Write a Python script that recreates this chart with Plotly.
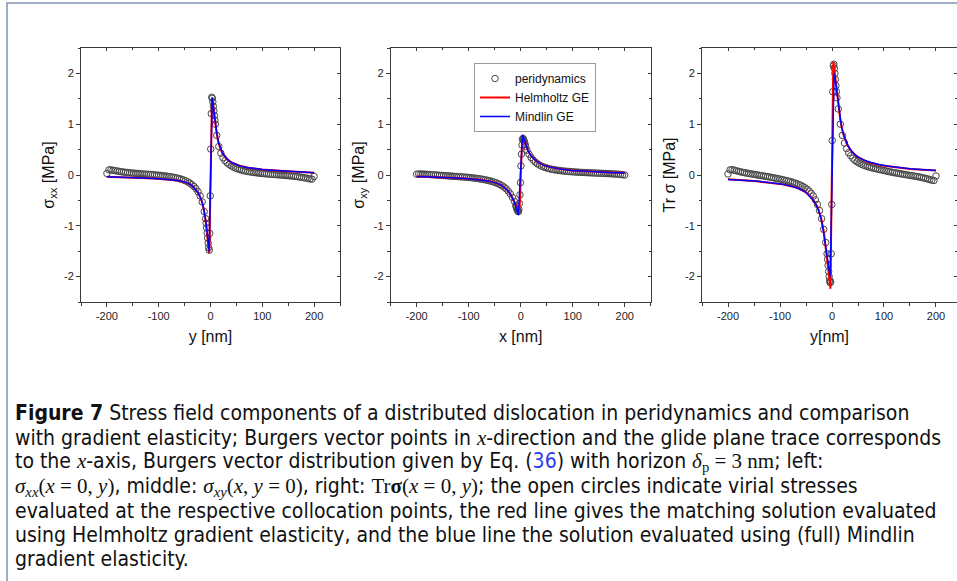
import plotly.graph_objects as go

# ---------------- data ----------------
# collocation positions (nm) shared by the three panels
pd_pos = [-200, -196, -192, -188, -184, -180, -176, -172, -168, -164, -160, -156, -152, -148, -144, -140,
          -136, -132, -128, -124, -120, -116, -112, -108, -104, -100, -96, -92, -88, -84, -80, -76, -72,
          -68, -64, -60, -56, -52, -48, -44, -40, -36, -32, -28, -24, -20, -16, -12,
          -9.5, -8.5, -7.5, -6.5, -5.5, -4.5, -3.5, -2.5, -1.5, -0.5, 0.5, 1.5, 2.5, 3.5, 4.5, 5.5, 6.5,
          7.5, 8.5, 9.5,
          12, 16, 20, 24, 28, 32, 36, 40, 44, 48, 52, 56, 60, 64, 68, 72, 76, 80, 84, 88, 92, 96, 100,
          104, 108, 112, 116, 120, 124, 128, 132, 136, 140, 144, 148, 152, 156, 160, 164, 168, 172, 176,
          180, 184, 188, 192, 196, 200]

# panel 1: sigma_xx(x=0, y)
pd_sxx = [0.03, 0.10, 0.10, 0.093, 0.085, 0.078, 0.071, 0.064, 0.058, 0.053, 0.048, 0.044, 0.040, 0.036,
          0.033, 0.029, 0.025, 0.022, 0.019, 0.016, 0.013, 0.010, 0.007, 0.003, -0.001, -0.005, -0.009,
          -0.014, -0.019, -0.024, -0.030, -0.037, -0.044, -0.052, -0.061, -0.072, -0.084, -0.098, -0.115,
          -0.135, -0.160, -0.190, -0.225, -0.270, -0.330, -0.410, -0.530, -0.720,
          -0.86, -0.95, -1.04, -1.14, -1.24, -1.34, -1.43, -1.48, -1.15, -0.41, 0.51, 1.21, 1.53, 1.51,
          1.44, 1.35, 1.26, 1.17, 1.08, 1.00,
          0.78, 0.56, 0.43, 0.34, 0.285, 0.24, 0.207, 0.18, 0.157, 0.138, 0.122, 0.109, 0.097, 0.086,
          0.077, 0.069, 0.062, 0.055, 0.049, 0.044, 0.039, 0.034, 0.030, 0.026, 0.022, 0.018, 0.015,
          0.012, 0.009, 0.006, 0.003, 0.0, -0.004, -0.008, -0.011, -0.015, -0.019, -0.023, -0.028,
          -0.033, -0.039, -0.045, -0.052, -0.060, -0.068, -0.077, -0.082, -0.030]

# panel 2: sigma_xy(x, y=0)
pd_sxy = [0.015, 0.020, 0.020, 0.018, 0.016, 0.013, 0.010, 0.007, 0.004, 0.001, -0.002, -0.005, -0.008,
          -0.011, -0.014, -0.017, -0.020, -0.023, -0.026, -0.029, -0.032, -0.035, -0.038, -0.041, -0.044,
          -0.048, -0.052, -0.057, -0.062, -0.068, -0.074, -0.080, -0.087, -0.095, -0.104, -0.114, -0.125,
          -0.138, -0.152, -0.168, -0.187, -0.210, -0.238, -0.272, -0.315, -0.370, -0.440, -0.520,
          -0.60, -0.63, -0.66, -0.69, -0.71, -0.72, -0.68, -0.56, -0.39, -0.15, 0.18, 0.41, 0.59, 0.70,
          0.72, 0.70, 0.67, 0.63, 0.60, 0.56,
          0.49, 0.41, 0.345, 0.295, 0.255, 0.222, 0.196, 0.175, 0.158, 0.144, 0.132, 0.121, 0.112, 0.104,
          0.097, 0.091, 0.086, 0.081, 0.077, 0.073, 0.069, 0.066, 0.063, 0.060, 0.057, 0.055, 0.052,
          0.050, 0.048, 0.046, 0.044, 0.042, 0.040, 0.038, 0.036, 0.034, 0.033, 0.031, 0.029, 0.027,
          0.025, 0.022, 0.020, 0.017, 0.014, 0.010, 0.006, 0.0]

# panel 3: Tr sigma(x=0, y)
pd_tr = [0.02, 0.10, 0.105, 0.095, 0.083, 0.072, 0.062, 0.053, 0.045, 0.037, 0.030, 0.023, 0.016, 0.009,
         0.002, -0.005, -0.012, -0.019, -0.026, -0.033, -0.040, -0.048, -0.056, -0.064, -0.072, -0.081,
         -0.090, -0.100, -0.110, -0.120, -0.131, -0.143, -0.156, -0.170, -0.186, -0.204, -0.225, -0.250,
         -0.280, -0.315, -0.360, -0.415, -0.490, -0.580, -0.700, -0.860, -1.070, -1.330,
         -1.55, -1.66, -1.78, -1.90, -2.00, -2.08, -2.12, -2.10, -1.55, -0.58, 0.68, 1.64, 2.15, 2.18,
         2.10, 2.00, 1.88, 1.76, 1.64, 1.52,
         1.30, 1.00, 0.78, 0.63, 0.52, 0.44, 0.38, 0.33, 0.29, 0.26, 0.235, 0.215, 0.197, 0.182, 0.168,
         0.155, 0.144, 0.134, 0.124, 0.115, 0.106, 0.098, 0.088, 0.079, 0.070, 0.061, 0.053, 0.045,
         0.038, 0.031, 0.024, 0.017, 0.010, 0.003, -0.004, -0.011, -0.018, -0.025, -0.032, -0.040,
         -0.048, -0.057, -0.067, -0.078, -0.090, -0.102, -0.108, -0.020]

# Helmholtz GE (red) and Mindlin GE (blue) solutions
p1_red_x = [-200, -150, -110, -80, -60, -45, -35, -27, -21, -16, -12, -9, -7, -5.5, -4.3, -3.4, -2.8, -2.2,
            2.4, 3.0, 3.8, 5, 6.5, 8.5, 11, 14, 18, 23, 30, 40, 55, 75, 100, 140, 200]
p1_red_y = [-0.035, -0.05, -0.068, -0.092, -0.115, -0.16, -0.215, -0.3, -0.41, -0.54, -0.72, -0.93, -1.1,
            -1.26, -1.4, -1.5, -1.54, -1.45, 1.42, 1.52, 1.49, 1.4, 1.26, 1.07, 0.88, 0.7, 0.55, 0.43,
            0.33, 0.25, 0.19, 0.14, 0.11, 0.08, 0.046]
p1_blue_x = [-200, -170, -140, -120, -100, -85, -70, -60, -50, -42, -35, -29, -24, -20, -16, -13, -11, -9,
             -7, -5.5, -4.2, -3.2, -2.6, 3.2, 4.5, 6, 8, 10, 12, 14, 16, 19, 22, 26, 30, 35, 42, 50, 60,
             70, 85, 100, 120, 140, 160, 180, 200]
p1_blue_y = [-0.035, -0.042, -0.052, -0.062, -0.073, -0.085, -0.1, -0.115, -0.138, -0.17, -0.215, -0.28,
             -0.35, -0.43, -0.54, -0.67, -0.78, -0.92, -1.09, -1.23, -1.37, -1.47, -1.51, 1.53, 1.45,
             1.32, 1.13, 0.96, 0.82, 0.72, 0.63, 0.53, 0.46, 0.39, 0.335, 0.285, 0.235, 0.2, 0.17,
             0.148, 0.127, 0.11, 0.095, 0.082, 0.07, 0.058, 0.046]

p2_red_x = [-200, -120, -80, -55, -37, -25, -18, -13, -10, -7.5, -5.5, -4, -2.5, -1.2, 0.2, 1.5, 3, 4,
            5.5, 7.5, 10, 14, 20, 30, 45, 66, 98, 140, 200]
p2_red_y = [-0.028, -0.058, -0.09, -0.13, -0.2, -0.3, -0.41, -0.52, -0.6, -0.66, -0.7, -0.71, -0.66, -0.5,
            0.05, 0.55, 0.7, 0.72, 0.71, 0.66, 0.58, 0.48, 0.38, 0.27, 0.19, 0.134, 0.09, 0.062, 0.038]
p2_blue_x = [-200, -180, -160, -140, -120, -94, -80, -66, -55, -45, -37, -30, -25, -20, -15.5, -12, -9.5,
             -7.5, -6, -4.5, 3.5, 5, 6.5, 8.5, 11, 14.5, 19, 24, 30, 37, 45, 55, 66, 80, 98, 120, 140,
             162, 180, 200]
p2_blue_y = [-0.028, -0.033, -0.04, -0.048, -0.058, -0.077, -0.092, -0.112, -0.135, -0.165, -0.205, -0.255,
             -0.305, -0.37, -0.45, -0.54, -0.62, -0.69, -0.74, -0.79, 0.79, 0.76, 0.71, 0.64, 0.56, 0.47,
             0.39, 0.33, 0.275, 0.23, 0.19, 0.16, 0.135, 0.112, 0.09, 0.072, 0.062, 0.052, 0.045, 0.038]

p3_red_x = [-200, -150, -100, -70, -50, -37, -28, -21, -16, -12, -9, -7, -5.5, -4.2, -3,
            2.5, 3.5, 4.5, 5.5, 7, 9, 12, 16, 21, 28, 37, 50, 70, 100, 150, 200]
p3_red_y = [-0.085, -0.12, -0.175, -0.24, -0.34, -0.47, -0.63, -0.84, -1.1, -1.4, -1.68, -1.88, -2.02,
            -2.15, -2.24, 2.23, 2.18, 2.1, 2.0, 1.86, 1.66, 1.39, 1.08, 0.83, 0.62, 0.47, 0.35, 0.25,
            0.18, 0.12, 0.088]
p3_blue_x = [-200, -170, -140, -110, -95, -80, -63, -52, -44, -37, -31, -26, -21, -18, -15, -12, -9.7,
             -7.5, -5.5, -4.2, -3.5, 4, 5, 6.5, 8, 10, 12, 15, 18, 22, 26, 31, 37, 44, 52, 62, 75, 90,
             110, 130, 150, 170, 200]
p3_blue_y = [-0.09, -0.105, -0.125, -0.16, -0.18, -0.215, -0.27, -0.33, -0.4, -0.48, -0.58, -0.69, -0.86,
             -1.0, -1.2, -1.42, -1.6, -1.78, -1.92, -1.99, -2.0, 2.0, 1.97, 1.87, 1.74, 1.56, 1.38, 1.15,
             0.97, 0.8, 0.68, 0.57, 0.48, 0.4, 0.34, 0.29, 0.245, 0.205, 0.17, 0.145, 0.125, 0.11, 0.09]

x_tick_vals = [-200, -100, 0, 100, 200]
x_tick_text = ["-200", "-100", "0", "100", "200"]
y_tick_vals = [-2, -1, 0, 1, 2]
y_tick_text = ["-2", "-1", "0", "1", "2"]

x_titles = ["y [nm]", "x [nm]", "y[nm]"]
y_titles = ["σ<sub>xx</sub> [MPa]", "σ<sub>xy</sub> [MPa]", "Tr σ [MPa]"]
legend_names = ["peridynamics", "Helmholtz GE", "Mindlin GE"]

caption_lines = [
    "<b>Figure 7</b> Stress field components of a distributed dislocation in peridynamics and comparison",
    "with gradient elasticity; Burgers vector points in <M><i>x</i></M>-direction and the glide plane trace corresponds",
    "to the <M><i>x</i></M>-axis, Burgers vector distribution given by Eq. (<span style='color:#2b3bf0'>36</span>) with horizon <M><i>δ</i><sub>p</sub> = 3 nm</M>; left:",
    "<M><i>σ<sub>xx</sub></i>(<i>x</i> = 0, <i>y</i>)</M>, middle: <M><i>σ<sub>xy</sub></i>(<i>x</i>, <i>y</i> = 0)</M>, right: <M>Tr<b>σ</b>(<i>x</i> = 0, <i>y</i>)</M>; the open circles indicate virial stresses",
    "evaluated at the respective collocation points, the red line gives the matching solution evaluated",
    "using Helmholtz gradient elasticity, and the blue line the solution evaluated using (full) Mindlin",
    "gradient elasticity.",
]

# ---------------- layout geometry (pixels) ----------------
W, H = 957, 581
PX = lambda v: v / W
PY = lambda v: 1 - v / H

panel_x = [(81, 340), (390.7, 650.7), (702, W)]
panel_xrange = [[-250, 250], [-250, 250], [-250, 240.4]]
ydom = [PY(302), PY(48)]

AX_COLOR = "#3a3a3a"
FONT = "Liberation Sans, Arial, sans-serif"

series = [
    (pd_sxx, p1_red_x, p1_red_y, p1_blue_x, p1_blue_y),
    (pd_sxy, p2_red_x, p2_red_y, p2_blue_x, p2_blue_y),
    (pd_tr, p3_red_x, p3_red_y, p3_blue_x, p3_blue_y),
]

fig = go.Figure()
layout = {}
for i, (circ, rx, ry, bx, by) in enumerate(series):
    n = i + 1
    xa = "x" if n == 1 else f"x{n}"
    ya = "y" if n == 1 else f"y{n}"
    show = (n == 2)
    fig.add_trace(go.Scatter(x=pd_pos, y=circ, mode="markers", xaxis=xa, yaxis=ya,
                             name=legend_names[0], showlegend=show,
                             marker=dict(symbol="circle-open", size=6.5, color="#454545",
                                         line=dict(width=1, color="#454545"))))
    fig.add_trace(go.Scatter(x=rx, y=ry, mode="lines", xaxis=xa, yaxis=ya,
                             name=legend_names[1], showlegend=show,
                             line=dict(color="#ff0000", width=2)))
    fig.add_trace(go.Scatter(x=bx, y=by, mode="lines", xaxis=xa, yaxis=ya,
                             name=legend_names[2], showlegend=show,
                             line=dict(color="#0000ff", width=1.5)))
    # overlay axes (top / right) with inward mirror ticks
    m = n + 3
    fig.add_trace(go.Scatter(x=[None], y=[None], xaxis=f"x{m}", yaxis=f"y{m}",
                             showlegend=False, hoverinfo="skip"))

    dom = [PX(panel_x[i][0]), PX(panel_x[i][1])]
    common_x = dict(range=panel_xrange[i], showgrid=False, zeroline=False,
                    tickmode="array", tickvals=x_tick_vals, ticktext=x_tick_text,
                    linecolor=AX_COLOR, linewidth=1, tickcolor=AX_COLOR)
    common_y = dict(range=[-2.5, 2.5], showgrid=False, zeroline=False,
                    tickmode="array", tickvals=y_tick_vals, ticktext=y_tick_text,
                    linecolor=AX_COLOR, linewidth=1, tickcolor=AX_COLOR)
    layout[f"xaxis{'' if n == 1 else n}"] = dict(
        common_x, domain=dom, anchor=ya, showline=True, ticks="outside", ticklen=4, tickwidth=1,
        minor=dict(tickmode="linear", tick0=0, dtick=50, ticks="outside", ticklen=2.5,
                   tickcolor=AX_COLOR),
        tickfont=dict(family=FONT, size=11, color="#222"),
        title=dict(text=x_titles[i], font=dict(family=FONT, size=16, color="#111"), standoff=9))
    layout[f"yaxis{'' if n == 1 else n}"] = dict(
        common_y, domain=ydom, anchor=xa, showline=True, ticks="outside", ticklen=4, tickwidth=1,
        minor=dict(tickmode="linear", tick0=0, dtick=0.5, ticks="outside", ticklen=2.5,
                   tickcolor=AX_COLOR),
        tickfont=dict(family=FONT, size=11, color="#222"),
        title=dict(text=y_titles[i], font=dict(family=FONT, size=16, color="#111"), standoff=5))
    layout[f"xaxis{m}"] = dict(
        common_x, overlaying=xa, side="top", anchor=f"y{m}", showline=True,
        ticks="inside", ticklen=3, showticklabels=False,
        minor=dict(tickmode="linear", tick0=0, dtick=50, ticks="inside", ticklen=2,
                   tickcolor=AX_COLOR))
    layout[f"yaxis{m}"] = dict(
        common_y, overlaying=ya, side="right", anchor=f"x{m}", showline=(n != 3),
        ticks="inside", ticklen=3, showticklabels=False,
        minor=dict(tickmode="linear", tick0=0, dtick=0.5, ticks="inside", ticklen=2,
                   tickcolor=AX_COLOR))

fig.update_layout(**layout)

# caption
MATH = "<span style=\"font-family:'Liberation Serif','DejaVu Serif',serif\">"
cap_y = [413, 438, 462, 487, 511, 535, 559]
for txt, yy in zip(caption_lines, cap_y):
    t = txt.replace("<M>", MATH).replace("</M>", "</span>")
    fig.add_annotation(x=PX(13), y=PY(yy), xref="paper", yref="paper", text=t, showarrow=False,
                       xanchor="left", yanchor="middle", align="left",
                       font=dict(family="DejaVu Sans Condensed, Liberation Sans Narrow, Liberation Sans",
                                 size=21, color="#111"))

# outer frame of the figure box
fig.add_shape(type="rect", xref="paper", yref="paper", x0=PX(7), y0=-0.05, x1=1.05, y1=PY(3),
              line=dict(color="#7f93ad", width=1.5), fillcolor="rgba(0,0,0,0)", layer="below")

fig.update_layout(
    width=W, height=H, autosize=False,
    margin=dict(l=0, r=0, t=0, b=0),
    paper_bgcolor="white", plot_bgcolor="white",
    font=dict(family=FONT, color="#222"),
    legend=dict(x=PX(474), y=PY(63), xanchor="left", yanchor="top",
                bgcolor="white", bordercolor="#9a9a9a", borderwidth=1,
                font=dict(family=FONT, size=12, color="#111"),
                itemwidth=30, tracegroupgap=0),
)

fig.write_html("out.html")
